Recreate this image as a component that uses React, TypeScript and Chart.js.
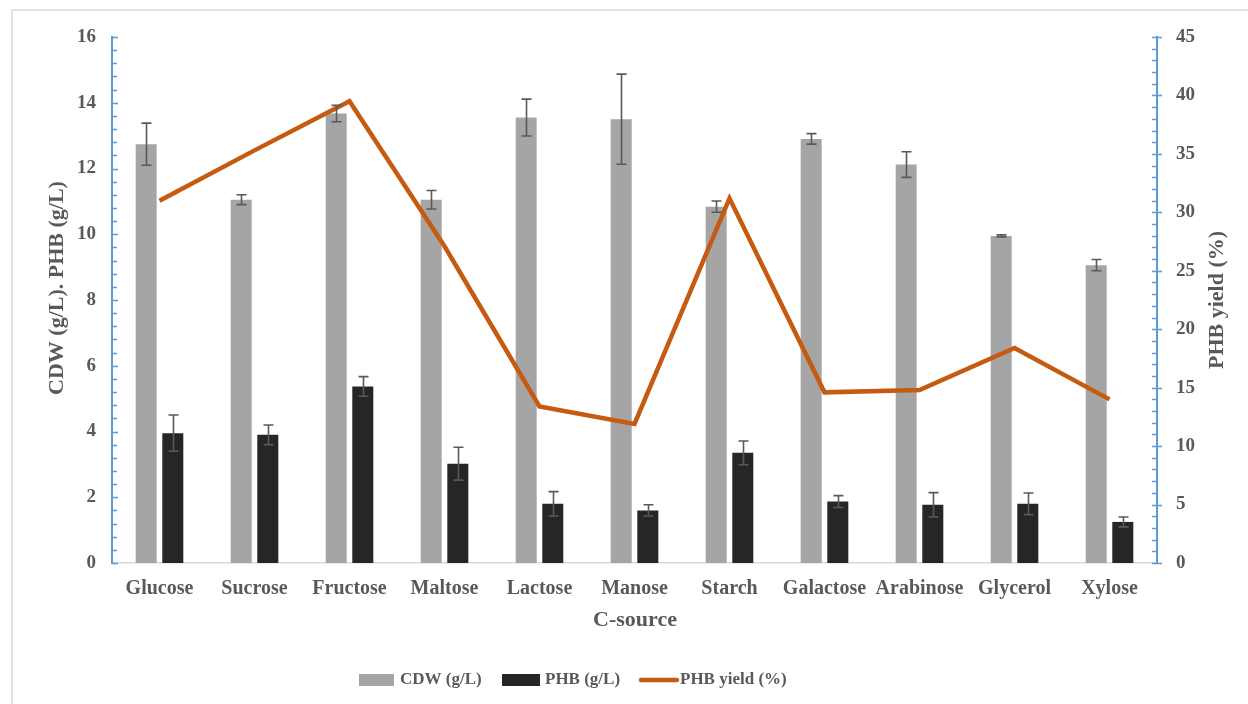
import React, { useEffect, useRef } from "react";
import { Chart, registerables } from "chart.js";

Chart.register(...registerables);

// Carbon sources tested
const categories = [
  "Glucose", "Sucrose", "Fructose", "Maltose", "Lactose", "Manose",
  "Starch", "Galactose", "Arabinose", "Glycerol", "Xylose",
];

// Cell dry weight (g/L) and its standard deviation
const cdw = [12.74, 11.05, 13.67, 11.05, 13.55, 13.5, 10.84, 12.9, 12.12, 9.95, 9.06];
const cdwErr = [0.64, 0.15, 0.25, 0.28, 0.56, 1.37, 0.17, 0.16, 0.39, 0.03, 0.17];

// PHB titre (g/L) and its standard deviation
const phb = [3.95, 3.9, 5.37, 3.02, 1.8, 1.6, 3.35, 1.87, 1.77, 1.8, 1.25];
const phbErr = [0.55, 0.3, 0.3, 0.5, 0.37, 0.17, 0.36, 0.18, 0.37, 0.33, 0.15];

// PHB yield (%)
const phbYield = [31.0, 35.3, 39.5, 27.1, 13.4, 11.9, 31.2, 14.6, 14.8, 18.4, 14.0];

// Axis ranges and tick steps
const leftMax = 16;
const leftStep = 2;
const leftMinor = 0.4;
const rightMax = 45;
const rightStep = 5;
const rightMinor = 1;

const TEXT = "#595959";
const AXIS_BLUE = "#5b9bd5";
const SERIF = "'Liberation Serif', 'Times New Roman', serif";

// Standard-deviation whiskers on the two bar series (dataset 1 = CDW, 2 = PHB)
const errorBars = {
  id: "errorBars",
  afterDatasetsDraw(chart: any) {
    const { ctx } = chart;
    const yScale = chart.scales.y;
    const sets = [
      { idx: 1, vals: cdw, errs: cdwErr },
      { idx: 2, vals: phb, errs: phbErr },
    ];
    ctx.save();
    ctx.strokeStyle = "#595959";
    ctx.lineWidth = 1.6;
    const cap = 5;
    sets.forEach(({ idx, vals, errs }) => {
      const meta = chart.getDatasetMeta(idx);
      meta.data.forEach((bar: any, j: number) => {
        const x = Math.round(bar.x) + 0.5;
        const yTop = yScale.getPixelForValue(vals[j] + errs[j]);
        const yBot = yScale.getPixelForValue(vals[j] - errs[j]);
        ctx.beginPath();
        ctx.moveTo(x, yTop);
        ctx.lineTo(x, yBot);
        ctx.moveTo(x - cap, yTop);
        ctx.lineTo(x + cap, yTop);
        ctx.moveTo(x - cap, yBot);
        ctx.lineTo(x + cap, yBot);
        ctx.stroke();
      });
    });
    ctx.restore();
  },
};

const decorations = {
  id: "decorations",
  beforeDraw(chart: any) {
    const { ctx } = chart;
    ctx.save();
    ctx.fillStyle = "#ffffff";
    ctx.fillRect(0, 0, chart.width, chart.height);
    // outer frame
    ctx.strokeStyle = "#d9d9d9";
    ctx.lineWidth = 1.5;
    ctx.beginPath();
    ctx.moveTo(12, chart.height + 5);
    ctx.lineTo(12, 10);
    ctx.lineTo(chart.width + 5, 10);
    ctx.stroke();
    ctx.restore();
  },
  afterDraw(chart: any) {
    const { ctx, chartArea } = chart;
    const yL = chart.scales.y;
    const yR = chart.scales.y1;
    ctx.save();
    // tick marks on both value axes
    ctx.strokeStyle = AXIS_BLUE;
    ctx.lineWidth = 1.5;
    ctx.beginPath();
    for (let k = 0; k <= Math.round(leftMax / leftMinor); k++) {
      const v = k * leftMinor;
      const y = Math.round(yL.getPixelForValue(v)) + 0.5;
      const major = Math.abs(v / leftStep - Math.round(v / leftStep)) < 1e-6;
      ctx.moveTo(chartArea.left, y);
      ctx.lineTo(chartArea.left + (major ? 6 : 5), y);
    }
    for (let k = 0; k <= Math.round(rightMax / rightMinor); k++) {
      const v = k * rightMinor;
      const y = Math.round(yR.getPixelForValue(v)) + 0.5;
      const major = v % rightStep === 0;
      ctx.moveTo(chartArea.right - 5, y);
      ctx.lineTo(chartArea.right + (major ? 5 : 0), y);
    }
    ctx.stroke();

    // axis titles
    ctx.fillStyle = TEXT;
    ctx.font = `bold 22px ${SERIF}`;
    ctx.textAlign = "center";
    ctx.textBaseline = "middle";
    ctx.fillText("C-source", 635, 620);

    ctx.save();
    ctx.translate(57, 288);
    ctx.rotate(-Math.PI / 2);
    ctx.fillText("CDW (g/L). PHB (g/L)", 0, 0);
    ctx.restore();

    ctx.save();
    ctx.translate(1217, 300);
    ctx.rotate(-Math.PI / 2);
    ctx.fillText("PHB yield (%)", 0, 0);
    ctx.restore();

    // legend
    const ly = 680;
    ctx.font = `bold 17px ${SERIF}`;
    ctx.textAlign = "left";
    ctx.fillStyle = "#a5a5a5";
    ctx.fillRect(359, ly - 6, 35, 12);
    ctx.fillStyle = TEXT;
    ctx.fillText("CDW (g/L)", 400, ly);
    ctx.fillStyle = "#262626";
    ctx.fillRect(502, ly - 6, 38, 12);
    ctx.fillStyle = TEXT;
    ctx.fillText("PHB (g/L)", 545, ly);
    ctx.strokeStyle = "#c55a11";
    ctx.lineWidth = 4.5;
    ctx.lineCap = "round";
    ctx.beginPath();
    ctx.moveTo(641, ly);
    ctx.lineTo(677, ly);
    ctx.stroke();
    ctx.fillStyle = TEXT;
    ctx.fillText("PHB yield (%)", 680, ly);
    ctx.restore();
  },
};

export default function App() {
  const canvasRef = useRef<HTMLCanvasElement | null>(null);

  useEffect(() => {
    if (!canvasRef.current) return;
    const chart = new Chart(canvasRef.current, {
      type: "bar",
      data: {
        labels: categories,
        datasets: [
          {
            type: "line",
            label: "PHB yield (%)",
            data: phbYield,
            yAxisID: "y1",
            borderColor: "#c55a11",
            borderWidth: 4.5,
            pointRadius: 0,
            tension: 0,
            fill: false,
            order: 0,
          } as any,
          {
            label: "CDW (g/L)",
            data: cdw,
            yAxisID: "y",
            backgroundColor: "#a5a5a5",
            barPercentage: 0.79,
            categoryPercentage: 0.56,
            order: 1,
          },
          {
            label: "PHB (g/L)",
            data: phb,
            yAxisID: "y",
            backgroundColor: "#262626",
            barPercentage: 0.79,
            categoryPercentage: 0.56,
            order: 1,
          },
        ],
      },
      options: {
        responsive: false,
        animation: false,
        devicePixelRatio: 1,
        layout: { padding: { top: 37, left: 0, right: 0, bottom: 0 } },
        plugins: {
          legend: { display: false },
          tooltip: { enabled: false },
        },
        scales: {
          x: {
            grid: { display: false, drawTicks: false },
            border: { color: "#d9d9d9", width: 1.5 },
            ticks: {
              color: TEXT,
              font: { family: SERIF, size: 20, weight: "bold" },
              padding: 14,
              maxRotation: 0,
              autoSkip: false,
            },
            afterFit: (s: any) => {
              s.height = 141;
            },
          },
          y: {
            position: "left",
            min: 0,
            max: leftMax,
            grid: { display: false, drawTicks: false },
            border: { color: AXIS_BLUE, width: 2 },
            ticks: {
              stepSize: leftStep,
              color: TEXT,
              font: { family: SERIF, size: 19, weight: "bold" },
              padding: 16,
            },
            afterFit: (s: any) => {
              s.width = 112;
            },
          },
          y1: {
            position: "right",
            min: 0,
            max: rightMax,
            grid: { display: false, drawTicks: false },
            border: { color: AXIS_BLUE, width: 2 },
            ticks: {
              stepSize: rightStep,
              color: TEXT,
              font: { family: SERIF, size: 19, weight: "bold" },
              padding: 19,
            },
            afterFit: (s: any) => {
              s.width = 91;
            },
          },
        },
      },
      plugins: [decorations, errorBars],
    });
    return () => chart.destroy();
  }, []);

  return (
    <div style={{ position: "fixed", left: 0, top: 0, width: 1248, height: 704, background: "#fff" }}>
      <canvas ref={canvasRef} width={1248} height={704} />
    </div>
  );
}
